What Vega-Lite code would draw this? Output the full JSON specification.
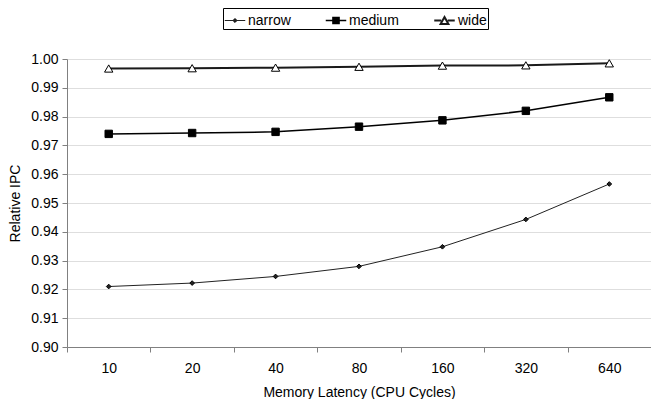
{
  "$schema": "https://vega.github.io/schema/vega-lite/v6.json",
  "width": 584,
  "height": 288,
  "autosize": "none",
  "padding": {"left": 67, "top": 59, "right": 0, "bottom": 52},
  "background": "white",
  "config": {
    "font": "Liberation Sans",
    "view": {"stroke": null},
    "axis": {"labelFont": "Liberation Sans", "titleFont": "Liberation Sans", "labelColor": "#000", "titleColor": "#000", "labelFontSize": 14, "titleFontSize": 14, "titleFontWeight": "normal", "domainColor": "#808080", "tickColor": "#808080", "gridColor": "#dedede", "labelOverlap": false}
  },
  "data": {
    "values": [
      {"latency": "10", "series": "narrow", "ipc": 0.921},
      {"latency": "20", "series": "narrow", "ipc": 0.9222},
      {"latency": "40", "series": "narrow", "ipc": 0.9245},
      {"latency": "80", "series": "narrow", "ipc": 0.928},
      {"latency": "160", "series": "narrow", "ipc": 0.9348},
      {"latency": "320", "series": "narrow", "ipc": 0.9443},
      {"latency": "640", "series": "narrow", "ipc": 0.9566},
      {"latency": "10", "series": "medium", "ipc": 0.974},
      {"latency": "20", "series": "medium", "ipc": 0.9743},
      {"latency": "40", "series": "medium", "ipc": 0.9747},
      {"latency": "80", "series": "medium", "ipc": 0.9765},
      {"latency": "160", "series": "medium", "ipc": 0.9787},
      {"latency": "320", "series": "medium", "ipc": 0.982},
      {"latency": "640", "series": "medium", "ipc": 0.9867},
      {"latency": "10", "series": "wide", "ipc": 0.9967},
      {"latency": "20", "series": "wide", "ipc": 0.9968},
      {"latency": "40", "series": "wide", "ipc": 0.997},
      {"latency": "80", "series": "wide", "ipc": 0.9973},
      {"latency": "160", "series": "wide", "ipc": 0.9977},
      {"latency": "320", "series": "wide", "ipc": 0.9978},
      {"latency": "640", "series": "wide", "ipc": 0.9985}
    ]
  },
  "encoding": {
    "x": {
      "field": "latency", "type": "ordinal",
      "sort": ["10", "20", "40", "80", "160", "320", "640"],
      "bandPosition": 0.5,
      "scale": {"type": "band", "paddingInner": 0, "paddingOuter": 0},
      "axis": {"title": "Memory Latency (CPU Cycles)", "labelAngle": 0, "tickBand": "extent", "grid": false, "tickSize": 5, "labelPadding": 9, "titlePadding": 10}
    },
    "y": {
      "field": "ipc", "type": "quantitative",
      "scale": {"domain": [0.9, 1.0], "nice": false, "zero": false},
      "axis": {"title": "Relative IPC", "format": ".2f", "values": [0.9, 0.91, 0.92, 0.93, 0.94, 0.95, 0.96, 0.97, 0.98, 0.99, 1.0], "tickSize": 5, "labelPadding": 4, "titlePadding": 8, "grid": true}
    }
  },
  "layer": [
    {
      "mark": {"type": "line"},
      "encoding": {
        "color": {"field": "series", "type": "nominal", "scale": {"domain": ["narrow", "medium", "wide"], "range": ["#222222", "#000000", "#1a1a1a"]},
          "legend": {
            "title": null, "orient": "none", "legendX": 156, "legendY": -51, "direction": "horizontal",
            "strokeColor": "#000", "padding": 1, "columnPadding": 31, "symbolSize": 420, "labelFontSize": 14, "labelFont": "Liberation Sans", "labelColor": "#000", "labelOffset": 2,
            "encode": {
              "symbols": {"update": {
                "shape": {"signal": "datum.value === 'narrow' ? 'M-1,0H1M0,-0.2L0.2,0L0,0.2L-0.2,0Z' : datum.value === 'medium' ? 'M-1,0H1M-0.3,-0.3H0.3V0.3H-0.3Z' : 'M-1,0H-0.32M0.32,0H1M0,-0.34L0.38,0.34L-0.38,0.34Z'"},
                "size": {"value": 420},
                "fill": {"signal": "datum.value === 'wide' ? '#ffffff' : '#000000'"},
                "stroke": {"value": "#000"},
                "strokeWidth": {"signal": "datum.value === 'narrow' ? 1 : datum.value === 'medium' ? 2 : 1.5"},
                "opacity": {"value": 1}
              }}
            }
          }
        },
        "strokeWidth": {"field": "series", "type": "nominal", "scale": {"domain": ["narrow", "medium", "wide"], "range": [1, 2, 3]}, "legend": null}
      }
    },
    {
      "transform": [{"filter": "datum.series === 'narrow'"}],
      "mark": {"type": "point", "shape": "diamond", "size": 22, "filled": true, "fill": "#222222", "opacity": 1, "stroke": "#000", "strokeWidth": 1}
    },
    {
      "transform": [{"filter": "datum.series === 'medium'"}],
      "mark": {"type": "point", "shape": "square", "size": 55, "filled": true, "fill": "#000000", "opacity": 1, "stroke": "#000", "strokeWidth": 1}
    },
    {
      "transform": [{"filter": "datum.series === 'wide'"}],
      "mark": {"type": "point", "shape": "triangle-up", "size": 70, "filled": true, "fill": "#ffffff", "opacity": 1, "stroke": "#000", "strokeWidth": 1}
    }
  ]
}
